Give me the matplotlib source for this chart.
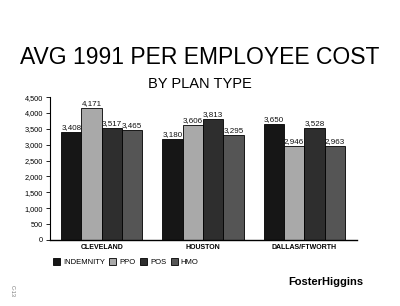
import matplotlib
matplotlib.use('Agg')
import matplotlib.pyplot as plt
import numpy as np
from matplotlib.ticker import FuncFormatter

# data
cities = ['CLEVELAND', 'HOUSTON', 'DALLAS/FTWORTH']
plans = ['INDEMNITY', 'PPO', 'POS', 'HMO']
indemnity = [3408, 3180, 3650]
ppo = [4171, 3606, 2946]
pos = [3517, 3813, 3528]
hmo = [3465, 3295, 2963]
yticks = [0, 500, 1000, 1500, 2000, 2500, 3000, 3500, 4000, 4500]

series = [indemnity, ppo, pos, hmo]
colors = ['#161616', '#a9a9a9', '#2e2e2e', '#555555']

plt.rcParams['font.family'] = ['Liberation Sans', 'DejaVu Sans']

fig = plt.figure(figsize=(4, 3.06), dpi=100)
ax = fig.add_axes([0.125, 0.2157, 0.7675, 0.467])

x = np.arange(len(cities))
w = 0.2
for i, (vals, c) in enumerate(zip(series, colors)):
    pos_x = x + (i - 1.5) * w
    bars = ax.bar(pos_x, vals, w, color=c, edgecolor='black', linewidth=0.6, label=plans[i])
    for b, v in zip(bars, vals):
        ax.text(b.get_x() + b.get_width() / 2, v + 30, f'{v:,}', ha='center', va='bottom',
                fontsize=5.8, color='#111111')

ax.set_xlim(-0.51, 2.52)
ax.set_ylim(0, 4500)
ax.set_yticks(yticks)
ax.yaxis.set_major_formatter(FuncFormatter(lambda v, p: f'{int(v):,}'))
ax.tick_params(axis='y', labelsize=5.3, length=3, width=0.6, pad=2)
ax.set_xticks(x)
ax.set_xticklabels(cities, fontsize=5, fontweight='bold')
ax.tick_params(axis='x', length=0, pad=3)
for s in ['top', 'right']:
    ax.spines[s].set_visible(False)
ax.spines['left'].set_linewidth(0.8)
ax.spines['bottom'].set_linewidth(1.0)

# titles
fig.text(0.5, 0.812, 'AVG 1991 PER EMPLOYEE COST', ha='center', va='center', fontsize=16.5)
fig.text(0.5, 0.724, 'BY PLAN TYPE', ha='center', va='center', fontsize=10.5)

# legend
handles, labels = ax.get_legend_handles_labels()
fig.legend(handles, labels, loc='center left', bbox_to_anchor=(0.115, 0.143), ncol=4,
           frameon=False, fontsize=5.5, handlelength=0.9, handleheight=0.9,
           handletextpad=0.4, columnspacing=0.6)

# footer
fig.text(0.908, 0.08, 'FosterHiggins', ha='right', va='center', fontsize=8,
         fontweight='bold')
fig.text(0.03, 0.05, 'C-13', ha='center', va='center', fontsize=4, rotation=-90,
         color='#777777')

fig.savefig('out.png', dpi=100)
